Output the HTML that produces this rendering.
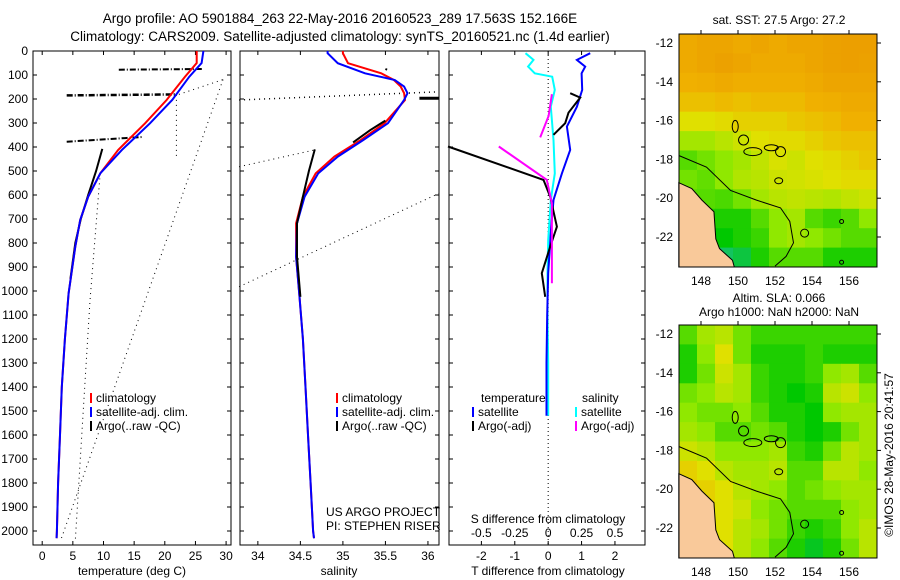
<!DOCTYPE html>
<html><head><meta charset="utf-8">
<style>
html,body{margin:0;padding:0;background:#fff;}
svg{display:block;font-family:"Liberation Sans",sans-serif;}
</style></head>
<body>
<svg id="fig" width="900" height="580" viewBox="0 0 900 580" xmlns="http://www.w3.org/2000/svg">
<text x="340" y="23" font-size="13.5" text-anchor="middle">Argo profile: AO 5901884_263 22-May-2016 20160523_289 17.563S 152.166E</text>
<text x="340" y="41" font-size="13.5" text-anchor="middle">Climatology: CARS2009. Satellite-adjusted climatology: synTS_20160521.nc (1.4d earlier)</text>
<text x="779" y="24" font-size="12" text-anchor="middle">sat. SST: 27.5 Argo: 27.2</text>
<text x="779" y="302" font-size="12" text-anchor="middle">Altim. SLA: 0.066</text>
<text x="779" y="316" font-size="12" text-anchor="middle">Argo h1000: NaN h2000: NaN</text>
<text transform="translate(893,455) rotate(-90)" font-size="12" text-anchor="middle">©IMOS 28-May-2016 20:41:57</text>
<g id="g"></g>
</svg>
<script>
// ---- data ----
const climDepth = [0,50,107,204,301,412,509,607,704,815,1010,1200,1400,1600,1800,2000,2030];
const climTemp  = [25.2,25.2,23.3,20.3,16.8,12.4,9.5,7.5,6.2,5.4,4.3,3.7,3.2,2.9,2.6,2.4,2.35];
const satTemp   = [26.3,26.0,24.0,21.2,17.6,13.0,9.5,7.5,6.2,5.4,4.3,3.7,3.2,2.9,2.6,2.4,2.35];
const salDepth  = [0,9,51,93,121,148,176,204,301,371,440,510,607,718,857,1024,1200,1400,1600,1800,2000,2030];
const climSal   = [35.0,35.0,35.06,35.45,35.6,35.68,35.72,35.73,35.49,35.21,34.9,34.68,34.53,34.45,34.45,34.49,34.53,34.56,34.59,34.62,34.65,34.66];
const satSal    = [34.82,34.82,34.94,35.26,35.61,35.72,35.76,35.72,35.53,35.24,34.94,34.71,34.55,34.46,34.45,34.49,34.53,34.56,34.59,34.62,34.65,34.66];
const argoTempDepth = [408,500,600,700,800,950];
const argoTemp      = [9.8,8.8,7.5,6.3,5.4,4.6];
const argoSalUpperDepth = [290,330,381];
const argoSalUpper      = [35.5,35.32,35.12];
const argoSalDepth  = [410,500,607,718,857,1024];
const argoSal       = [34.67,34.6,34.53,34.46,34.46,34.5];
const diffDepth = [9,37,65,93,162,232,315,412,510,621,732,926,1100,1300,1520];
const satTdiff  = [1.26,0.86,1.11,1.0,1.02,0.86,0.56,0.66,0.41,0.16,0.09,0.0,-0.03,-0.05,-0.05];
const sdiffDepth = [9,37,65,93,107,162,232,371,510,621,787,926,1100,1300,1520];
const satSdiff  = [-0.17,-0.11,-0.15,-0.1,0.03,0.05,0.02,0.04,0.05,0.02,0.0,-0.005,-0.005,0.0,0.0];
const argoTdiffDepth = [176,194,257,301,349];
const argoTdiff      = [0.66,0.96,0.61,0.51,0.16];
const argoTdiffDepth2 = [398,537,607,732,815,926,1024];
const argoTdiff2      = [-3.0,-0.14,0.06,0.26,0.06,-0.19,-0.09];
const argoSdiffDepth = [180,271,360];
const argoSdiff      = [0.028,0.003,-0.06];
const argoSdiffDepth2 = [398,537,635,968];
const argoSdiff2      = [-0.37,-0.01,0.028,0.028];
const depthTicks = [0,100,200,300,400,500,600,700,800,900,1000,1100,1200,1300,1400,1500,1600,1700,1800,1900,2000];
const tempTicks = [0,5,10,15,20,25,30];
const salTicks = [34,34.5,35,35.5,36];
const tdiffTicks = [-2,-1,0,1,2];
const sdiffTicks = [-0.5,-0.25,0,0.25,0.5];
const sdiffLabels = ["-0.5","-0.25","0","0.25","0.5"];
const lonTicks = [148,150,152,154,156];
const latTicks = [-12,-14,-16,-18,-20,-22];
const sstGrid = [
[.88,.9,.9,.88,.9,.88,.9,.9,.92,.93,.93],
[.88,.9,.92,.9,.88,.88,.88,.9,.92,.93,.92],
[.85,.86,.88,.86,.86,.86,.86,.88,.9,.9,.9],
[.8,.8,.82,.8,.82,.82,.82,.85,.86,.88,.88],
[.7,.7,.72,.75,.75,.75,.78,.8,.82,.85,.85],
[.55,.55,.6,.65,.7,.72,.72,.75,.78,.8,.8],
[.4,.45,.5,.55,.62,.68,.65,.7,.72,.75,.78],
[.45,.42,.5,.58,.6,.65,.66,.68,.7,.72,.72],
[.4,.4,.38,.45,.55,.6,.62,.6,.58,.62,.65],
[.35,.3,.3,.3,.4,.5,.55,.4,.35,.4,.5],
[.2,.15,.25,.3,.35,.5,.55,.5,.45,.4,.4],
[.1,.1,.1,.15,.3,.4,.4,.4,.3,.3,.3]];
const slaGrid = [
[.4,.55,.6,.45,.35,.35,.35,.35,.35,.35,.35],
[.3,.5,.7,.45,.3,.3,.3,.35,.3,.3,.3],
[.3,.45,.65,.55,.35,.3,.3,.35,.5,.55,.4],
[.45,.5,.6,.55,.35,.3,.25,.3,.6,.65,.5],
[.5,.45,.45,.5,.4,.3,.3,.25,.5,.55,.55],
[.55,.5,.4,.4,.45,.4,.3,.25,.3,.45,.55],
[.65,.6,.5,.5,.5,.55,.35,.3,.45,.6,.55],
[.75,.7,.6,.55,.55,.6,.4,.4,.6,.6,.5],
[.8,.75,.7,.6,.55,.5,.4,.45,.5,.55,.55],
[.7,.75,.7,.65,.5,.45,.4,.4,.4,.5,.55],
[.75,.7,.7,.6,.55,.45,.35,.3,.35,.5,.6],
[.7,.7,.7,.6,.5,.4,.3,.2,.3,.45,.6]];
const landLon = [146.8,147.5,148.05,148.7,148.8,149.0,149.7,149.8,146.8];
const landLat = [-19.2,-19.5,-20.1,-20.7,-22.1,-22.6,-23.2,-24.0,-24.0];
const shelfLon = [146.8,148.3,149.6,151,152.3,152.8,153.0,152.6,152];
const shelfLat = [-17.8,-18.4,-19.6,-20.1,-20.5,-21.2,-22.3,-23.0,-23.5];

// ---- helpers ----
const NS="http://www.w3.org/2000/svg";
const G=document.getElementById('g');
function mk(tag,attrs,parent){const e=document.createElementNS(NS,tag);for(const k in attrs)e.setAttribute(k,attrs[k]);(parent||G).appendChild(e);return e;}
const Y0=51, YS=0.24, PT=51, PB=545;
const yD=d=>Y0+d*YS;
const panels=[
 {name:'temperature',x0:33,x1:231,v0:-1.5,v1:30.8},
 {name:'salinity',x0:240,x1:439,v0:33.79,v1:36.13},
 {name:'difference',x0:449,x1:645,v0:-2.97,v1:2.9}];
const sx=(p,v)=>p.x0+(v-p.v0)/(p.v1-p.v0)*(p.x1-p.x0);
function line(p,xs,ds,color,w,name,dash){
  const pts=xs.map((v,i)=>sx(p,v).toFixed(1)+','+yD(ds[i]).toFixed(1)).join(' ');
  const e=mk('polyline',{points:pts,fill:'none',stroke:color,'stroke-width':w});
  if(dash)e.setAttribute('stroke-dasharray',dash);
  
  
  return e;
}
function txt(x,y,s,size,anchor,name){const e=mk('text',{x:x,y:y,'font-size':size,'text-anchor':anchor||'start'});e.textContent=s;
  
  return e;}

panels.forEach((p,pi)=>{
  const r=mk('rect',{x:p.x0,y:PT,width:p.x1-p.x0,height:PB-PT,fill:'none',stroke:'#000','stroke-width':1});
  
  
  depthTicks.forEach(d=>{mk('line',{x1:p.x0,x2:p.x0+4,y1:yD(d),y2:yD(d),stroke:'#000'});mk('line',{x1:p.x1,x2:p.x1-4,y1:yD(d),y2:yD(d),stroke:'#000'});});
});
depthTicks.forEach(d=>txt(28,yD(d)+4,String(d),12,'end','depth-tick-label'));
const pT=panels[0],pS=panels[1],pD=panels[2];
tempTicks.forEach(v=>{const x=sx(pT,v);mk('line',{x1:x,x2:x,y1:PB,y2:PB-4,stroke:'#000'});mk('line',{x1:x,x2:x,y1:PT,y2:PT+4,stroke:'#000'});txt(x,560,String(v),12,'middle','temperature-tick-label');});
salTicks.forEach(v=>{const x=sx(pS,v);mk('line',{x1:x,x2:x,y1:PB,y2:PB-4,stroke:'#000'});mk('line',{x1:x,x2:x,y1:PT,y2:PT+4,stroke:'#000'});txt(x,560,String(v),12,'middle','salinity-tick-label');});
tdiffTicks.forEach(v=>{const x=sx(pD,v);mk('line',{x1:x,x2:x,y1:PB,y2:PB-4,stroke:'#000'});txt(x,560,String(v),12,'middle','t-diff-tick-label');});
sdiffTicks.forEach((v,i)=>{const x=sx(pD,v*4);mk('line',{x1:x,x2:x,y1:PT,y2:PT+4,stroke:'#000'});txt(x,537,sdiffLabels[i],12,'middle','s-diff-tick-label');});
txt(132,575,'temperature (deg C)',12,'middle','temperature-axis-title');
txt(339,575,'salinity',12,'middle','salinity-axis-title');
txt(548,575,'T difference from climatology',12,'middle','t-diff-axis-title');
txt(548,523,'S difference from climatology',12,'middle','s-diff-axis-title');
txt(326,516,'US ARGO PROJECT',12,'start','project-label');
txt(326,530,'PI: STEPHEN RISER',12,'start','pi-label');
const z=sx(pD,0);
mk('line',{x1:z,x2:z,y1:PT,y2:PB,stroke:'#000','stroke-dasharray':'1,3'});

// temperature panel
line(pT,[12.5,26.1],[78,75],'#000',2,'argo-raw-temp-spike','6,2,1,2');
line(pT,[4,21.9],[185,181],'#000',2.5,'argo-raw-temp-spike','6,2,1,2');
line(pT,[4,13.5,16.5],[378,363,358],'#000',2,'argo-raw-temp-spike','6,2,1,2');
line(pT,[22.3,29.5],[181,119],'#000',1,'argo-raw-temp-dotted','1,4');
line(pT,[21.9,21.9],[183,441],'#000',1,'argo-raw-temp-dotted','1,4');
line(pT,[29.5,3],[119,2040],'#000',1,'argo-raw-temp-dotted','1,4');
line(pT,[9.4,7.8,5.4],[531,1040,2040],'#000',1,'argo-raw-temp-dotted','1,4');
line(pT,argoTemp,argoTempDepth,'#000',2,'argo-temperature-line');
line(pT,climTemp,climDepth,'#f00',2,'climatology-temperature-line');
line(pT,satTemp,climDepth,'#00f',2,'satellite-temperature-line');

// salinity panel
line(pS,[33.78,36.13],[204,170],'#000',1.5,'argo-raw-sal-dotted','1,4');
line(pS,[35.9,36.13],[197,197],'#000',3,'argo-raw-sal-spike');
line(pS,[35.5,35.52],[75,78],'#000',2,'argo-raw-sal-dot');
line(pS,[33.78,34.67],[482,412],'#000',1,'argo-raw-sal-dotted','1,4');
line(pS,[33.78,36.13],[982,593],'#000',1,'argo-raw-sal-dotted','1,4');
line(pS,climSal,salDepth,'#f00',2,'climatology-salinity-line');
line(pS,satSal,salDepth,'#00f',2,'satellite-salinity-line');
line(pS,argoSalUpper,argoSalUpperDepth,'#000',2,'argo-salinity-upper-line');
line(pS,argoSal,argoSalDepth,'#000',2,'argo-salinity-line');

// diff panel
line(pD,satSdiff.map(v=>v*4),sdiffDepth,'#0ff',2,'satellite-salinity-diff-line');
line(pD,satTdiff,diffDepth,'#00f',2,'satellite-temperature-diff-line');
line(pD,argoTdiff,argoTdiffDepth,'#000',2,'argo-temperature-diff-line');
line(pD,argoTdiff2,argoTdiffDepth2,'#000',2,'argo-temperature-diff-line-deep');
line(pD,argoSdiff.map(v=>v*4),argoSdiffDepth,'#f0f',2,'argo-salinity-diff-line');
line(pD,argoSdiff2.map(v=>v*4),argoSdiffDepth2,'#f0f',2,'argo-salinity-diff-line-deep');

// legends
function leg(x,y,color,label,name){if(color)mk('rect',{x:x,y:y-9,width:2,height:10,fill:color});txt(x+6,y,label,12,'start',name);}
[[pT,90],[pS,336]].forEach(([p,x],i)=>{
  leg(x,402,'#f00','climatology','legend-climatology');
  leg(x,416,'#00f','satellite-adj. clim.','legend-satellite-adj');
  leg(x,430,'#000','Argo(..raw -QC)','legend-argo-raw');
});
txt(481,402,'temperature',12,'start','legend-temperature-header');
txt(582,402,'salinity',12,'start','legend-salinity-header');
leg(472,416,'#00f','satellite','legend-temp-satellite');
leg(472,430,'#000','Argo(-adj)','legend-temp-argo');
leg(575,416,'#0ff','satellite','legend-sal-satellite');
leg(575,430,'#f0f','Argo(-adj)','legend-sal-argo');

// ---- maps ----
const MX0=679,MX1=877;
const lonX=l=>701+(l-148)*18.5;
const latY=(lat,off)=>off+43+(-12-lat)*19.4;
const stops=[[0,[32,192,160]],[0.25,[0,200,0]],[0.5,[144,232,0]],[0.7,[224,224,0]],[0.85,[240,176,0]],[1,[232,144,0]]];
function cmap(v){for(let i=1;i<stops.length;i++){if(v<=stops[i][0]){const a=stops[i-1],b=stops[i];const t=(v-a[0])/(b[0]-a[0]);const c=a[1].map((q,k)=>Math.round(q+(b[1][k]-q)*t));return `rgb(${c})`;}}return 'rgb(232,144,0)';}
function drawMap(grid,off,name){
  const top=34+off,bot=267+off;
  const cg=mk('g',{});
  
  
  const nr=grid.length,nc=grid[0].length;
  const cw=(MX1-MX0)/nc,ch=(bot-top)/nr;
  grid.forEach((row,r)=>row.forEach((v,c)=>{
    const e=mk('rect',{x:(MX0+c*cw).toFixed(1),y:(top+r*ch).toFixed(1),width:(cw+0.5).toFixed(1),height:(ch+0.5).toFixed(1),fill:cmap(v)},cg);
    
    
  }));
  const clip=v=>Math.min(v,bot);
  const land=mk('polygon',{points:landLon.map((l,i)=>lonX(l)+','+clip(latY(landLat[i],off))).join(' '),fill:'#f9c99a',stroke:'#000','stroke-width':1});
  
  
  const sh=mk('polyline',{points:shelfLon.map((l,i)=>lonX(l)+','+clip(latY(shelfLat[i],off))).join(' '),fill:'none',stroke:'#000','stroke-width':1});
  
  
  [[149.85,-16.3,3,6],[150.3,-17.0,5,5],[150.8,-17.6,9,4],[151.8,-17.4,7,3],[152.3,-17.6,5,5],[152.2,-19.1,4,3],[153.6,-21.8,4,4],[155.6,-21.2,2,2],[155.6,-23.3,2,2]].forEach(([l,la,rx,ry])=>{
    const e=mk('ellipse',{cx:lonX(l),cy:latY(la,off),rx:rx,ry:ry,fill:'none',stroke:'#000','stroke-width':1});
    
    
  });
  const fr=mk('rect',{x:MX0,y:top,width:MX1-MX0,height:bot-top,fill:'none',stroke:'#000','stroke-width':1});
  
  
  latTicks.forEach(la=>{const y=latY(la,off);mk('line',{x1:MX1,x2:MX1+4,y1:y,y2:y,stroke:'#000'});txt(673,y+4,String(la),12,'end','lat-tick-label');});
  lonTicks.forEach(l=>{const x=lonX(l);mk('line',{x1:x,x2:x,y1:top,y2:top-4,stroke:'#000'});txt(x,bot+18,String(l),12,'middle','lon-tick-label');});
}
drawMap(sstGrid,0,'sst-map');
drawMap(slaGrid,291,'sla-map');
</script>
</body></html>
